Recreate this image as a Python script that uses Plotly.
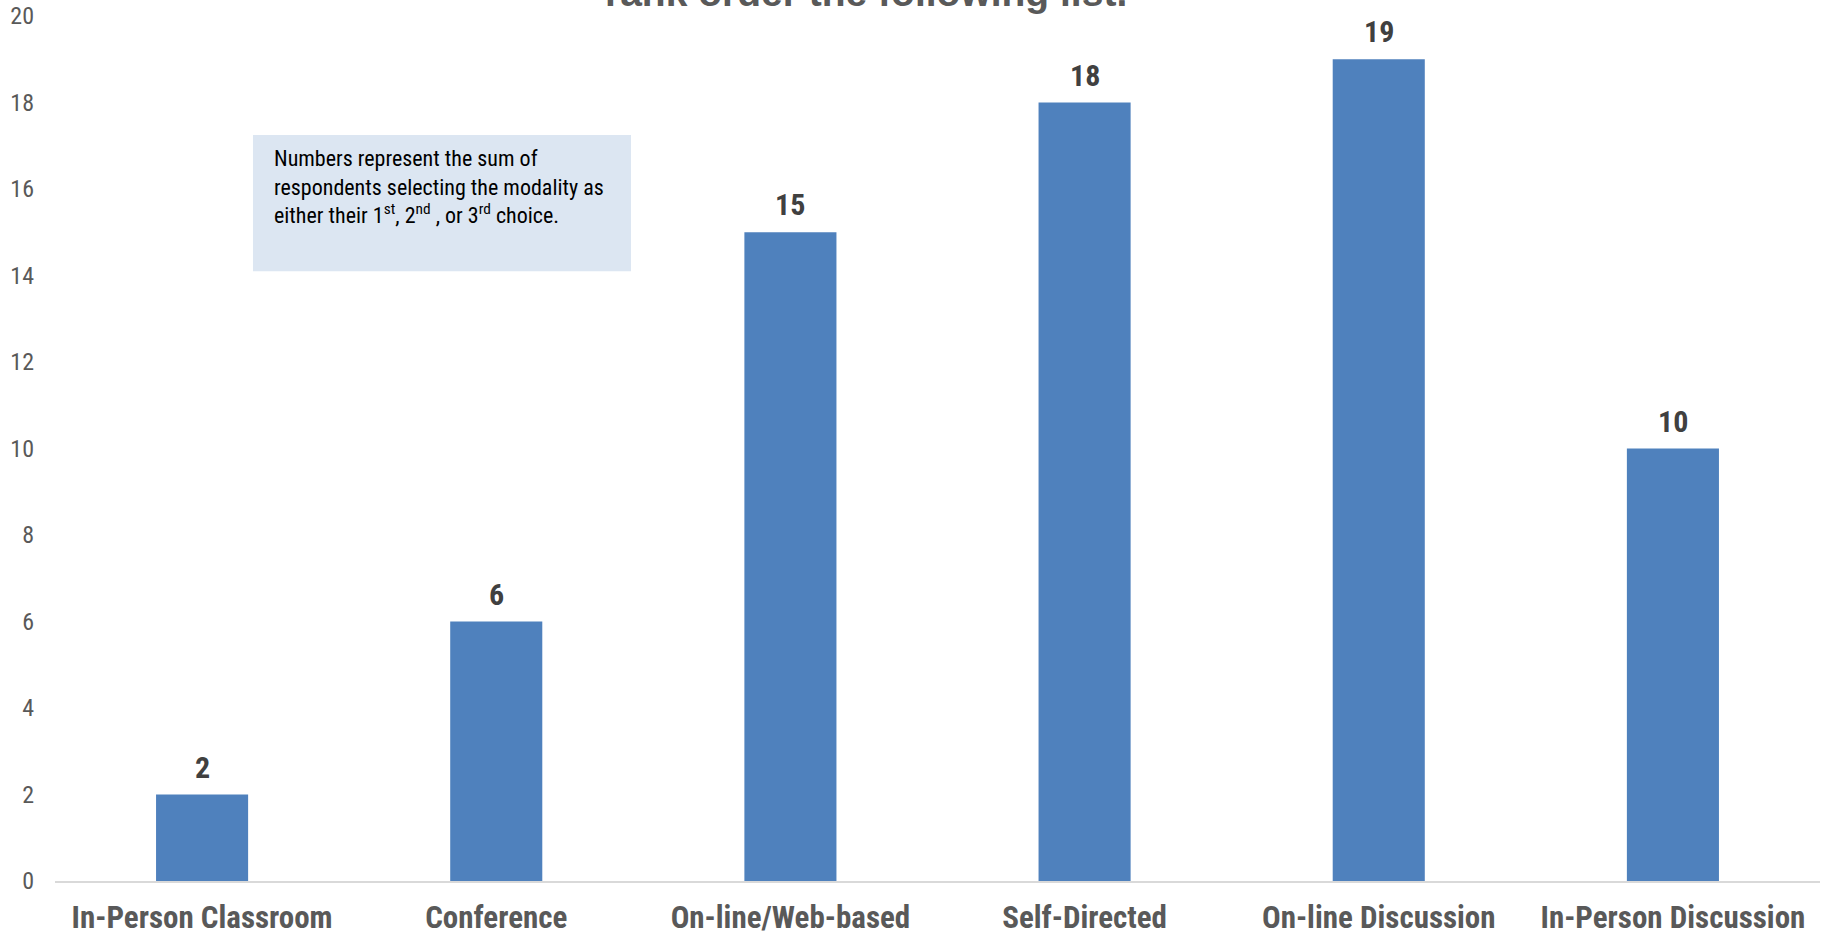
import plotly.graph_objects as go

categories = ["In-Person Classroom", "Conference", "On-line/Web-based",
              "Self-Directed", "On-line Discussion", "In-Person Discussion"]
values = [2, 6, 15, 18, 19, 10]
y_ticks = [0, 2, 4, 6, 8, 10, 12, 14, 16, 18, 20]

title_text = "rank order the following list."
note_text = ("Numbers represent the sum of<br>respondents selecting the modality as<br>"
             "either their 1<sup>st</sup>, 2<sup>nd</sup> , or 3<sup>rd</sup> choice.")

NARROW = "Liberation Sans Narrow, Arial Narrow, Roboto Condensed, sans-serif"

fig = go.Figure()
fig.add_trace(go.Bar(
    x=categories, y=values,
    marker=dict(color="#4f81bd", line=dict(width=0)),
    width=0.313,
))

value_labels = [
    dict(text=f"<b>{v}</b>", x=c, y=v, xref="x", yref="y", xanchor="center",
         yanchor="bottom", yshift=8, showarrow=False,
         font=dict(family=NARROW, size=30, color="#404040"))
    for c, v in zip(categories, values)
]

fig.update_layout(
    width=1829, height=935,
    margin=dict(l=55, r=9, t=16, b=54),
    paper_bgcolor="white", plot_bgcolor="white",
    showlegend=False,
    xaxis=dict(
        showgrid=False, showline=True, linecolor="#d9d9d9", linewidth=2,
        ticks="", tickfont=dict(family=NARROW, size=31, color="#595959", weight="bold"),
        range=[-0.5, 5.5], automargin=False, ticklabelstandoff=8,
    ),
    yaxis=dict(
        range=[0, 20], tickvals=y_ticks, showgrid=False, zeroline=False,
        showline=False, ticks="", automargin=False, ticklabelstandoff=20,
        ticklabeloverflow="allow",
        tickfont=dict(family=NARROW, size=24, color="#595959"),
    ),
    shapes=[dict(type="rect", xref="x", yref="y", x0=0.173, x1=1.458, y0=14.10, y1=17.25,
                 fillcolor="#dce6f2", line=dict(width=0), layer="above")],
    annotations=value_labels + [
        dict(text=note_text, xref="x", yref="y", x=0.238, y=17.05, xanchor="left",
             yanchor="top", align="left", showarrow=False,
             font=dict(family=NARROW, size=22, color="#000000")),
        dict(text="<b>" + title_text + "</b>", xref="paper", yref="paper", x=0.4595, y=1.0,
             xanchor="center", yanchor="bottom", showarrow=False,
             font=dict(family="Liberation Sans, Arial, sans-serif", size=39, color="#595959")),
    ],
)

fig.write_html("out.html", config={"displayModeBar": False},
               post_script="document.body.style.margin='0';")
